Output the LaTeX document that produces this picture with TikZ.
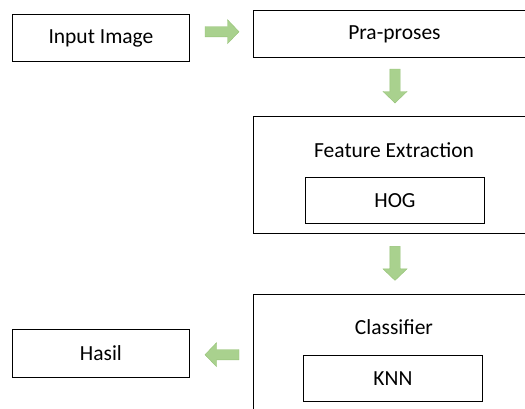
\documentclass[tikz,border=0pt]{standalone}
\usepackage{fontspec}
\setmainfont{Carlito}
\definecolor{arrowfill}{HTML}{A9D18E}
\definecolor{arrowedge}{HTML}{94C275}
\begin{document}
\begin{tikzpicture}[x=1pt,y=-1pt,
  box/.style={draw=black, line width=0.9pt, inner sep=0pt, anchor=north west,
    font=\fontsize{21.5}{26}\selectfont, align=center},
  title/.style={font=\fontsize{21.5}{26}\selectfont, anchor=center},
  blockarr/.pic={
    \filldraw[fill=arrowfill, draw=arrowedge, line width=0.4pt]
      (-17,-5.2) -- (5.5,-5.2) -- (5.5,-12) -- (17,0) -- (5.5,12)
      -- (5.5,5.2) -- (-17,5.2) -- cycle;
  }]
\useasboundingbox (0,0) rectangle (525,408);
\clip (0,0) rectangle (525,408);

% process boxes
\node[box, minimum width=177pt, minimum height=47pt] (inp) at (12,14) {Input Image};
\node[box, minimum width=282pt, minimum height=47pt] (prep) at (253,10) {Pra-proses};
\node[box, minimum width=282pt, minimum height=117pt] (fe) at (253,116) {};
\node[title] (fetitle) at (394,150) {Feature Extraction};
\node[box, minimum width=179pt, minimum height=46pt] (hog) at (305,177) {HOG};
\node[box, minimum width=282pt, minimum height=117pt] (cls) at (253,294) {};
\node[title] (clstitle) at (394,327) {Classifier};
\node[box, minimum width=179pt, minimum height=46pt] (knn) at (303,355) {KNN};
\node[box, minimum width=177pt, minimum height=48pt] (hasil) at (12,329) {Hasil};

% block arrows between the stages
\pic at (222,31.7) {blockarr};
\pic[rotate=-90] at (395,86) {blockarr};
\pic[rotate=-90] at (395,263.4) {blockarr};
\pic[rotate=180] at (222,354.7) {blockarr};
\end{tikzpicture}
\end{document}
